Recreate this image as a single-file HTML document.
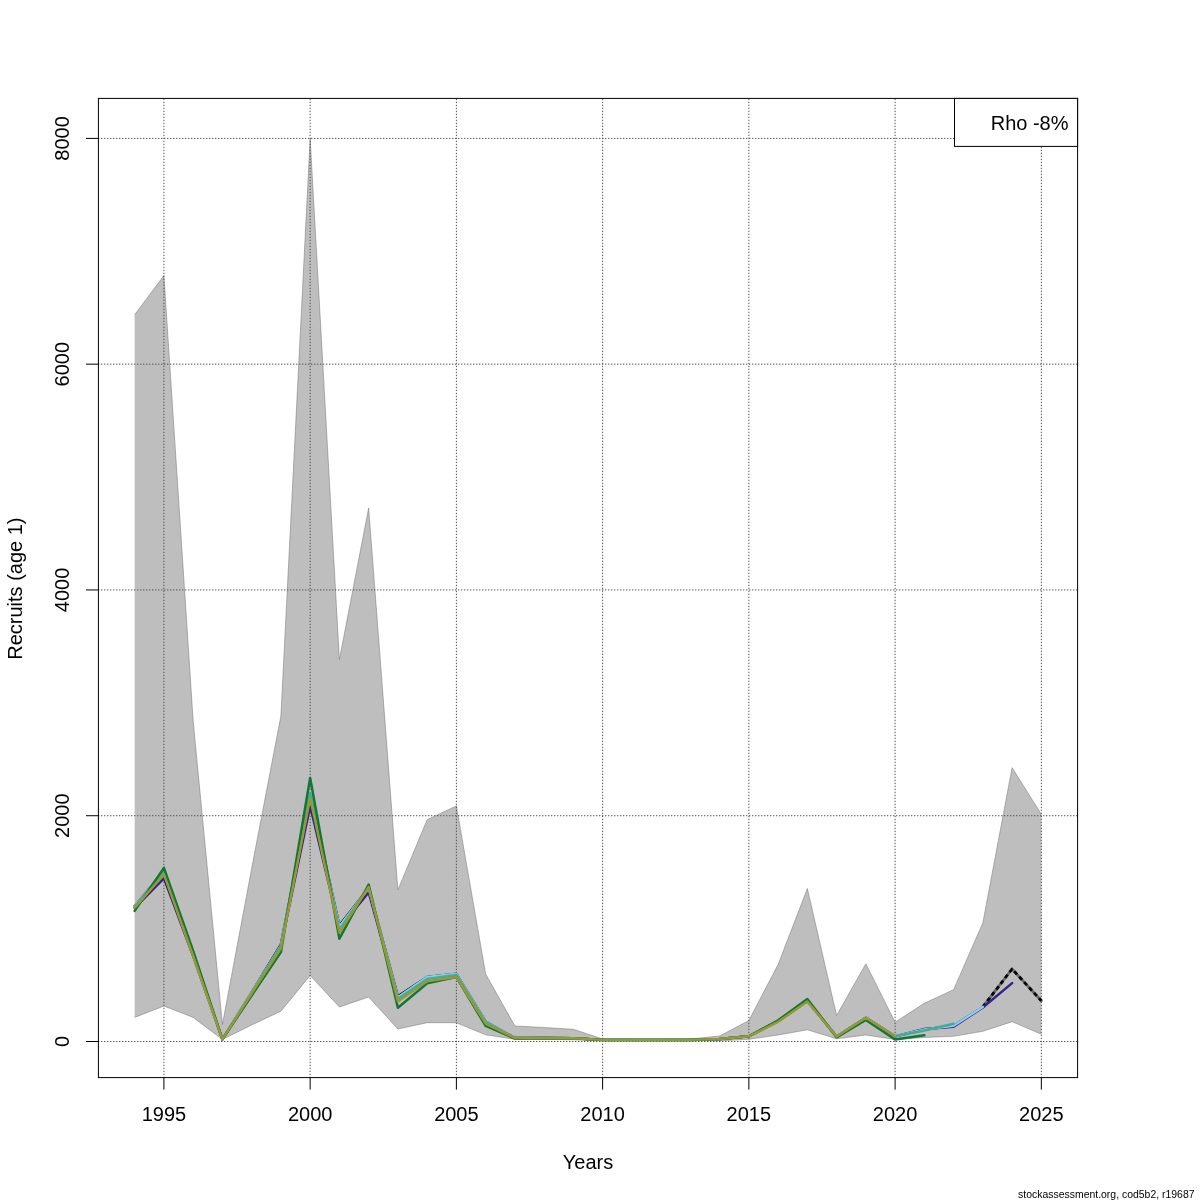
<!DOCTYPE html>
<html><head><meta charset="utf-8"><style>
html,body{margin:0;padding:0;background:#fff;width:1200px;height:1200px;overflow:hidden}
svg{display:block;font-family:"Liberation Sans", sans-serif;will-change:transform}
</style></head><body>
<svg width="1200" height="1200" viewBox="0 0 1200 1200">
<polygon points="134.67,314.80 163.91,275.50 193.16,721.00 222.41,1024.50 251.66,868.50 280.90,716.00 310.15,138.40 339.40,659.50 368.65,508.00 397.89,889.90 427.14,819.70 456.39,805.90 485.63,974.00 514.88,1026.00 544.13,1027.50 573.38,1029.30 602.62,1039.00 631.87,1039.30 661.12,1039.30 690.37,1039.00 719.61,1036.00 748.86,1020.50 778.11,964.50 807.35,888.50 836.60,1015.50 865.85,963.75 895.10,1022.20 924.34,1003.30 953.59,989.70 982.84,922.90 1012.09,767.70 1041.33,814.30 1041.33,1034.20 1012.09,1021.70 982.84,1031.30 953.59,1036.30 924.34,1037.50 895.10,1039.50 865.85,1035.00 836.60,1038.80 807.35,1029.80 778.11,1035.00 748.86,1039.30 719.61,1040.80 690.37,1041.00 661.12,1041.00 631.87,1041.00 602.62,1041.00 573.38,1039.80 544.13,1039.50 514.88,1039.30 485.63,1034.80 456.39,1022.70 427.14,1022.70 397.89,1029.00 368.65,997.00 339.40,1007.00 310.15,975.50 280.90,1011.20 251.66,1025.00 222.41,1039.50 193.16,1017.40 163.91,1006.00 134.67,1017.40" fill="#bebebe" stroke="none"/>
<polyline points="134.67,314.80 163.91,275.50 193.16,721.00 222.41,1024.50 251.66,868.50 280.90,716.00 310.15,138.40 339.40,659.50 368.65,508.00 397.89,889.90 427.14,819.70 456.39,805.90 485.63,974.00 514.88,1026.00 544.13,1027.50 573.38,1029.30 602.62,1039.00 631.87,1039.30 661.12,1039.30 690.37,1039.00 719.61,1036.00 748.86,1020.50 778.11,964.50 807.35,888.50 836.60,1015.50 865.85,963.75 895.10,1022.20 924.34,1003.30 953.59,989.70 982.84,922.90 1012.09,767.70 1041.33,814.30" fill="none" stroke="#707070" stroke-width="0.5"/>
<polyline points="134.67,1017.40 163.91,1006.00 193.16,1017.40 222.41,1039.50 251.66,1025.00 280.90,1011.20 310.15,975.50 339.40,1007.00 368.65,997.00 397.89,1029.00 427.14,1022.70 456.39,1022.70 485.63,1034.80 514.88,1039.30 544.13,1039.50 573.38,1039.80 602.62,1041.00 631.87,1041.00 661.12,1041.00 690.37,1041.00 719.61,1040.80 748.86,1039.30 778.11,1035.00 807.35,1029.80 836.60,1038.80 865.85,1035.00 895.10,1039.50 924.34,1037.50 953.59,1036.30 982.84,1031.30 1012.09,1021.70 1041.33,1034.20" fill="none" stroke="#707070" stroke-width="0.5"/>
<g stroke="#505050" stroke-width="1" stroke-dasharray="1.35 1.65" fill="none"><line x1="163.91" y1="98.75" x2="163.91" y2="1077.6"/><line x1="310.15" y1="98.75" x2="310.15" y2="1077.6"/><line x1="456.39" y1="98.75" x2="456.39" y2="1077.6"/><line x1="602.62" y1="98.75" x2="602.62" y2="1077.6"/><line x1="748.86" y1="98.75" x2="748.86" y2="1077.6"/><line x1="895.10" y1="98.75" x2="895.10" y2="1077.6"/><line x1="1041.33" y1="98.75" x2="1041.33" y2="1077.6"/><line x1="98" y1="1041.50" x2="1077.6" y2="1041.50"/><line x1="98" y1="815.72" x2="1077.6" y2="815.72"/><line x1="98" y1="589.95" x2="1077.6" y2="589.95"/><line x1="98" y1="364.17" x2="1077.6" y2="364.17"/><line x1="98" y1="138.40" x2="1077.6" y2="138.40"/></g>
<polyline points="982.84,1006.90 1012.09,969.00 1041.33,1000.80" fill="none" stroke="#6a6a6a" stroke-width="2.8" stroke-linejoin="round" stroke-linecap="round"/>
<polyline points="134.67,906.10 163.91,871.10 193.16,955.00 222.41,1039.30 251.66,992.50 280.90,944.30 310.15,795.00 339.40,925.60 368.65,888.00 397.89,996.20 427.14,977.00 456.39,973.80 485.63,1021.60 514.88,1038.00 544.13,1038.00 573.38,1038.30 602.62,1039.90 631.87,1039.90 661.12,1039.90 690.37,1039.90 719.61,1039.00 748.86,1036.30 778.11,1021.20 807.35,1001.00 836.60,1036.50 865.85,1017.75 895.10,1036.30 924.34,1029.50 953.59,1025.80 982.84,1006.90" fill="none" stroke="#000" stroke-width="2.4" stroke-linejoin="round" stroke-linecap="round"/>
<polyline points="982.84,1006.90 1012.09,969.00 1041.33,1000.80" fill="none" stroke="#000" stroke-width="2.8" stroke-linejoin="round" stroke-dasharray="4.1 3.2" stroke-linecap="butt"/>
<polyline points="134.67,908.00 163.91,878.40 193.16,956.00 222.41,1039.30 251.66,993.50 280.90,946.00 310.15,806.30 339.40,928.00 368.65,892.40 397.89,997.50 427.14,977.50 456.39,974.20 485.63,1022.00 514.88,1038.00 544.13,1038.00 573.38,1038.30 602.62,1039.90 631.87,1039.90 661.12,1039.90 690.37,1039.90 719.61,1039.00 748.86,1036.30 778.11,1021.20 807.35,1001.00 836.60,1036.50 865.85,1017.75 895.10,1036.30 924.34,1029.00 953.59,1026.70 982.84,1007.50 1012.09,983.10" fill="none" stroke="#332288" stroke-width="2.4" stroke-linejoin="round" stroke-linecap="round"/>
<polyline points="134.67,906.10 163.91,871.10 193.16,955.00 222.41,1039.30 251.66,992.50 280.90,945.30 310.15,795.00 339.40,926.60 368.65,888.00 397.89,997.20 427.14,977.00 456.39,973.80 485.63,1021.60 514.88,1038.00 544.13,1038.00 573.38,1038.30 602.62,1039.90 631.87,1039.90 661.12,1039.90 690.37,1039.90 719.61,1039.00 748.86,1036.30 778.11,1021.20 807.35,1001.00 836.60,1036.50 865.85,1017.75 895.10,1036.30 924.34,1029.50 953.59,1025.80 982.84,1006.90" fill="none" stroke="#88CCEE" stroke-width="2.5" stroke-linejoin="round" stroke-linecap="round"/>
<polyline points="134.67,907.00 163.91,871.00 193.16,955.50 222.41,1039.30 251.66,993.00 280.90,946.00 310.15,793.80 339.40,930.00 368.65,887.00 397.89,999.00 427.14,979.00 456.39,975.00 485.63,1022.00 514.88,1038.00 544.13,1038.00 573.38,1038.30 602.62,1039.90 631.87,1039.90 661.12,1039.90 690.37,1039.90 719.61,1039.00 748.86,1036.30 778.11,1021.20 807.35,1001.00 836.60,1036.50 865.85,1017.75 895.10,1036.30 924.34,1030.50 953.59,1023.80" fill="none" stroke="#44AA99" stroke-width="2.5" stroke-linejoin="round" stroke-linecap="round"/>
<polyline points="134.67,910.90 163.91,867.90 193.16,951.00 222.41,1039.30 251.66,995.50 280.90,952.00 310.15,778.00 339.40,938.70 368.65,884.50 397.89,1007.80 427.14,983.40 456.39,977.00 485.63,1025.90 514.88,1038.50 544.13,1038.00 573.38,1038.30 602.62,1039.90 631.87,1039.90 661.12,1039.90 690.37,1039.90 719.61,1039.00 748.86,1036.30 778.11,1020.30 807.35,999.00 836.60,1037.30 865.85,1020.00 895.10,1039.50 924.34,1035.30" fill="none" stroke="#117733" stroke-width="2.5" stroke-linejoin="round" stroke-linecap="round"/>
<polyline points="134.67,907.70 163.91,874.40 193.16,956.00 222.41,1039.30 251.66,993.50 280.90,948.30 310.15,798.20 339.40,932.60 368.65,887.00 397.89,1001.40 427.14,981.20 456.39,977.00 485.63,1023.70 514.88,1038.00 544.13,1038.00 573.38,1038.30 602.62,1039.90 631.87,1039.90 661.12,1039.90 690.37,1039.90 719.61,1039.00 748.86,1036.30 778.11,1021.80 807.35,1001.50 836.60,1036.50 865.85,1017.75 895.10,1036.30" fill="none" stroke="#999933" stroke-width="2.4" stroke-linejoin="round" stroke-linecap="round"/>
<rect x="98.4" y="98.4" width="979.2" height="979.2" fill="none" stroke="#000" stroke-width="1"/>
<g stroke="#000" stroke-width="1"><line x1="163.91" y1="1077.6" x2="163.91" y2="1089.6"/><line x1="310.15" y1="1077.6" x2="310.15" y2="1089.6"/><line x1="456.39" y1="1077.6" x2="456.39" y2="1089.6"/><line x1="602.62" y1="1077.6" x2="602.62" y2="1089.6"/><line x1="748.86" y1="1077.6" x2="748.86" y2="1089.6"/><line x1="895.10" y1="1077.6" x2="895.10" y2="1089.6"/><line x1="1041.33" y1="1077.6" x2="1041.33" y2="1089.6"/><line x1="86.0" y1="1041.50" x2="98.4" y2="1041.50"/><line x1="86.0" y1="815.72" x2="98.4" y2="815.72"/><line x1="86.0" y1="589.95" x2="98.4" y2="589.95"/><line x1="86.0" y1="364.17" x2="98.4" y2="364.17"/><line x1="86.0" y1="138.40" x2="98.4" y2="138.40"/></g>
<g font-size="20" fill="#000"><text x="163.91" y="1120.5" text-anchor="middle">1995</text><text x="310.15" y="1120.5" text-anchor="middle">2000</text><text x="456.39" y="1120.5" text-anchor="middle">2005</text><text x="602.62" y="1120.5" text-anchor="middle">2010</text><text x="748.86" y="1120.5" text-anchor="middle">2015</text><text x="895.10" y="1120.5" text-anchor="middle">2020</text><text x="1041.33" y="1120.5" text-anchor="middle">2025</text><text transform="translate(69,1041.50) rotate(-90)" text-anchor="middle">0</text><text transform="translate(69,815.72) rotate(-90)" text-anchor="middle">2000</text><text transform="translate(69,589.95) rotate(-90)" text-anchor="middle">4000</text><text transform="translate(69,364.17) rotate(-90)" text-anchor="middle">6000</text><text transform="translate(69,138.40) rotate(-90)" text-anchor="middle">8000</text></g>
<text x="588" y="1168.6" text-anchor="middle" font-size="20">Years</text>
<text transform="translate(21.5,588.6) rotate(-90)" text-anchor="middle" font-size="20">Recruits (age 1)</text>
<rect x="954.5" y="98.4" width="123.09999999999991" height="48.0" fill="#fff" stroke="#000" stroke-width="1"/>
<text x="1068.5" y="130" text-anchor="end" font-size="20">Rho -8%</text>
<text x="1194.5" y="1198" text-anchor="end" font-size="10.45">stockassessment.org, cod5b2, r19687</text>
</svg>
</body></html>
